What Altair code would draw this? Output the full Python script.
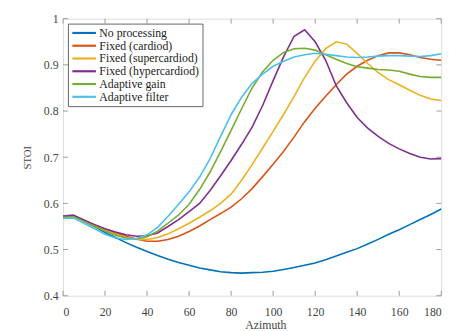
import altair as alt
import pandas as pd

azimuth = list(range(0, 181, 5))

series_names = [
    "No processing",
    "Fixed (cardiod)",
    "Fixed (supercardiod)",
    "Fixed (hypercardiod)",
    "Adaptive gain",
    "Adaptive filter",
]
series_colors = ["#0072BD", "#D95319", "#EDB120", "#7E2F8E", "#77AC30", "#4DBEEE"]

no_processing = [0.573, 0.574, 0.562, 0.550, 0.537, 0.526, 0.515, 0.505, 0.496, 0.487,
                 0.479, 0.472, 0.466, 0.460, 0.456, 0.452, 0.450, 0.449, 0.450, 0.451,
                 0.453, 0.457, 0.461, 0.466, 0.471, 0.478, 0.486, 0.494, 0.502, 0.512,
                 0.522, 0.533, 0.543, 0.554, 0.565, 0.576, 0.588]
cardioid = [0.572, 0.573, 0.563, 0.553, 0.544, 0.536, 0.529, 0.523, 0.518, 0.518,
            0.522, 0.529, 0.539, 0.551, 0.565, 0.578, 0.592, 0.610, 0.632, 0.658,
            0.685, 0.713, 0.744, 0.777, 0.806, 0.832, 0.857, 0.880, 0.897, 0.910,
            0.920, 0.926, 0.926, 0.922, 0.916, 0.912, 0.910]
supercardioid = [0.572, 0.574, 0.563, 0.552, 0.542, 0.533, 0.526, 0.522, 0.522, 0.526,
                 0.534, 0.545, 0.557, 0.570, 0.584, 0.600, 0.620, 0.650, 0.684, 0.720,
                 0.756, 0.793, 0.832, 0.873, 0.908, 0.935, 0.950, 0.945, 0.925, 0.903,
                 0.883, 0.868, 0.857, 0.845, 0.834, 0.826, 0.823]
hypercardioid = [0.572, 0.574, 0.564, 0.554, 0.545, 0.538, 0.532, 0.529, 0.530, 0.536,
                 0.550, 0.565, 0.582, 0.600, 0.628, 0.660, 0.693, 0.728, 0.765, 0.812,
                 0.866, 0.918, 0.962, 0.976, 0.950, 0.910, 0.855, 0.818, 0.786, 0.763,
                 0.745, 0.730, 0.718, 0.708, 0.700, 0.696, 0.697]
adaptive_gain = [0.570, 0.571, 0.561, 0.550, 0.540, 0.531, 0.525, 0.523, 0.528, 0.540,
                 0.557, 0.575, 0.598, 0.630, 0.668, 0.712, 0.758, 0.805, 0.850, 0.885,
                 0.910, 0.927, 0.935, 0.936, 0.932, 0.922, 0.912, 0.903, 0.896, 0.893,
                 0.890, 0.889, 0.886, 0.880, 0.875, 0.873, 0.873]
adaptive_filter = [0.568, 0.568, 0.557, 0.545, 0.533, 0.525, 0.522, 0.524, 0.532, 0.548,
                   0.572, 0.598, 0.625, 0.657, 0.697, 0.745, 0.792, 0.830, 0.860, 0.880,
                   0.897, 0.908, 0.917, 0.922, 0.925, 0.923, 0.920, 0.917, 0.916, 0.917,
                   0.919, 0.920, 0.920, 0.919, 0.918, 0.920, 0.924]

x_ticks = [0, 20, 40, 60, 80, 100, 120, 140, 160, 180]
y_ticks = [0.4, 0.5, 0.6, 0.7, 0.8, 0.9, 1.0]

all_series = [no_processing, cardioid, supercardioid, hypercardioid, adaptive_gain, adaptive_filter]
rows = []
for name, vals in zip(series_names, all_series):
    for a, v in zip(azimuth, vals):
        rows.append({"Azimuth": a, "STOI": v, "series": name})
df = pd.DataFrame(rows)

W, H = 385, 282
FONT = "Liberation Serif"
GRAY = "#9a9a9a"
TXT = "#444444"

xscale = alt.Scale(domain=[0, 180], nice=False, zero=False)
yscale = alt.Scale(domain=[0.4, 1.0], nice=False, zero=False)

lines = alt.Chart(df).mark_line(strokeWidth=1.6).encode(
    x=alt.X("Azimuth:Q", scale=xscale,
            axis=alt.Axis(values=x_ticks, tickSize=0, domain=False, grid=False,
                          labelFont=FONT, labelFontSize=12, labelColor=TXT,
                          labelPadding=11, title="Azimuth", titleFont=FONT,
                          titleFontSize=12, titleFontWeight="normal", titleColor=TXT,
                          titleX=206, titleY=24, titleBaseline="top")),
    y=alt.Y("STOI:Q", scale=yscale,
            axis=alt.Axis(values=y_ticks, format="~g", tickSize=0, domain=False, grid=False,
                          labelFont=FONT, labelFontSize=12, labelColor=TXT,
                          labelPadding=5, title="STOI", titleFont=FONT,
                          titleFontSize=11, titleFontWeight="normal", titleColor=TXT,
                          titlePadding=11)),
    color=alt.Color("series:N",
                    scale=alt.Scale(domain=series_names, range=series_colors),
                    legend=alt.Legend(orient="none", legendX=5, legendY=5, title=None,
                                      fillColor="white", strokeColor="#666666",
                                      padding=3, symbolType="M-2.4,0H2.4", symbolSize=100,
                                      symbolStrokeWidth=2.2, symbolOffset=7,
                                      labelFont=FONT, labelFontSize=12,
                                      labelColor="#222222", labelLimit=300,
                                      rowPadding=0, labelOffset=9)),
    detail="series:N",
)

xt = pd.DataFrame({"t": x_ticks})
yt = pd.DataFrame({"t": y_ticks})
tick_len = 5

bottom_ticks = alt.Chart(xt).mark_rule(color=GRAY, strokeWidth=1).encode(
    x=alt.X("t:Q", scale=xscale), y=alt.value(H), y2=alt.value(H - tick_len))
top_ticks = alt.Chart(xt).mark_rule(color=GRAY, strokeWidth=1).encode(
    x=alt.X("t:Q", scale=xscale), y=alt.value(0), y2=alt.value(tick_len))
left_ticks = alt.Chart(yt).mark_rule(color=GRAY, strokeWidth=1).encode(
    y=alt.Y("t:Q", scale=yscale), x=alt.value(0), x2=alt.value(tick_len))
right_ticks = alt.Chart(yt).mark_rule(color=GRAY, strokeWidth=1).encode(
    y=alt.Y("t:Q", scale=yscale), x=alt.value(W), x2=alt.value(W - tick_len))

chart = alt.layer(bottom_ticks, top_ticks, left_ticks, right_ticks, lines).properties(
    width=W, height=H,
    autosize=alt.AutoSizeParams(type="none"),
    padding={"left": 56, "top": 8, "right": 13, "bottom": 33},
).configure_view(stroke=GRAY, strokeWidth=1).configure(background="white")

chart.save("out.html", embed_options={"renderer": "svg", "actions": False})
